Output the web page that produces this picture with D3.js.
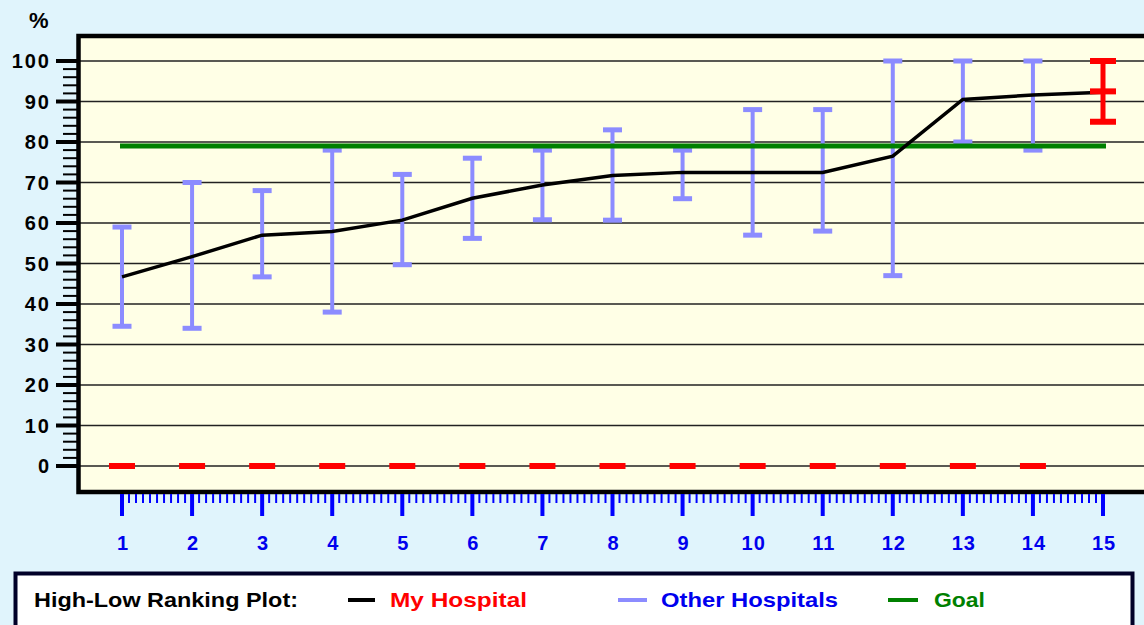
<!DOCTYPE html>
<html>
<head>
<meta charset="utf-8">
<script src="https://cdn.jsdelivr.net/npm/d3@7"></script>
<style>
  body { margin: 0; background: #e0f4fc; }
  svg { display: block; }
  text { font-family: "Liberation Sans", Arial, sans-serif; font-weight: bold; }
</style>
</head>
<body>
<svg id="chart" width="1144" height="625"></svg>
<script>
// ranking positions 1..15
let ranks = [1, 2, 3, 4, 5, 6, 7, 8, 9, 10, 11, 12, 13, 14, 15];
// black line, ranked values
let lineValues = [46.7, 51.7, 57, 57.9, 60.7, 66.1, 69.4, 71.7, 72.5, 72.5, 72.5, 76.5, 90.5, 91.6, 92.3];
// other hospitals high-low ranges (ranks 1..14)
let otherHigh = [59, 70, 68, 78, 72, 76, 78, 83, 78, 88, 88, 100, 100, 100];
let otherLow = [34.5, 34, 46.7, 38, 49.7, 56.2, 60.8, 60.7, 66, 57, 58, 47, 80, 78];
// my hospital range (rank 15)
let myRank = 15;
let myHigh = 100, myMid = 92.5, myLow = 85;
let goal = 79;
let yTicks = [0, 10, 20, 30, 40, 50, 60, 70, 80, 90, 100];

let svg = d3.select("#chart");
let x = d3.scaleLinear().domain([1, 15]).range([122, 1103]);
let y = d3.scaleLinear().domain([0, 100]).range([466, 61]);

// plot background
svg.append("rect").attr("x", 78).attr("y", 36).attr("width", 1100).attr("height", 456)
    .attr("fill", "#ffffe6");

// grid lines
svg.append("g").selectAll("line").data(yTicks).enter().append("line")
    .attr("x1", 80).attr("x2", 1144)
    .attr("y1", d => y(d)).attr("y2", d => y(d))
    .attr("stroke", "#222").attr("stroke-width", 1.5);

// frame
svg.append("path").attr("d", "M1150,36 H78.5 V492 H1150")
    .attr("fill", "none").attr("stroke", "#000").attr("stroke-width", 4.5);

// y axis ticks
let yMinor = [];
for (let i = 0; i < 10; i++) for (let j = 1; j < 5; j++) yMinor.push(i * 10 + j * 2);
svg.append("g").selectAll("line").data(yMinor).enter().append("line")
    .attr("x1", 63).attr("x2", 77).attr("y1", d => y(d)).attr("y2", d => y(d))
    .attr("stroke", "#000").attr("stroke-width", 2);
svg.append("g").selectAll("line").data(yTicks).enter().append("line")
    .attr("x1", 56).attr("x2", 78).attr("y1", d => y(d)).attr("y2", d => y(d))
    .attr("stroke", "#000").attr("stroke-width", 4);
svg.append("g").selectAll("text").data(yTicks).enter().append("text")
    .attr("x", 51).attr("y", d => y(d) + 7).attr("text-anchor", "end")
    .attr("font-size", 20).attr("letter-spacing", 2).attr("fill", "#000")
    .text(d => d);
svg.append("text").attr("x", 29).attr("y", 28).attr("font-size", 22).text("%");

// x axis ticks
let xMinor = [];
for (let i = 1; i < 15; i++) for (let j = 1; j < 10; j++) xMinor.push(i + j / 10);
svg.append("g").selectAll("line").data(xMinor).enter().append("line")
    .attr("x1", d => x(d)).attr("x2", d => x(d)).attr("y1", 494).attr("y2", 503)
    .attr("stroke", "#0000ff").attr("stroke-width", 2);
svg.append("g").selectAll("line").data(ranks).enter().append("line")
    .attr("x1", d => x(d)).attr("x2", d => x(d)).attr("y1", 494).attr("y2", 516)
    .attr("stroke", "#0000ff").attr("stroke-width", 4);
svg.append("g").selectAll("text").data(ranks).enter().append("text")
    .attr("x", d => x(d) + 1).attr("y", 550).attr("text-anchor", "middle")
    .attr("font-size", 20).attr("letter-spacing", 1).attr("fill", "#0000ee")
    .text(d => d);

// red dashes at zero
svg.append("g").selectAll("rect").data(ranks.slice(0, 14)).enter().append("rect")
    .attr("x", d => x(d) - 13).attr("y", y(0) - 3).attr("width", 26).attr("height", 6)
    .attr("fill", "#ff0000");

// other hospitals high-low bars
let blue = "#8c8cff";
let bars = svg.append("g").selectAll("g").data(otherHigh).enter().append("g");
bars.append("line").attr("x1", (d, i) => x(ranks[i])).attr("x2", (d, i) => x(ranks[i]))
    .attr("y1", d => y(d)).attr("y2", (d, i) => y(otherLow[i]))
    .attr("stroke", blue).attr("stroke-width", 4);
bars.append("line").attr("x1", (d, i) => x(ranks[i]) - 9.5).attr("x2", (d, i) => x(ranks[i]) + 9.5)
    .attr("y1", d => y(d)).attr("y2", d => y(d))
    .attr("stroke", blue).attr("stroke-width", 5);
bars.append("line").attr("x1", (d, i) => x(ranks[i]) - 9.5).attr("x2", (d, i) => x(ranks[i]) + 9.5)
    .attr("y1", (d, i) => y(otherLow[i])).attr("y2", (d, i) => y(otherLow[i]))
    .attr("stroke", blue).attr("stroke-width", 5);

// goal line
svg.append("line").attr("x1", x(1) - 2).attr("x2", x(15) + 3)
    .attr("y1", y(goal)).attr("y2", y(goal))
    .attr("stroke", "#008000").attr("stroke-width", 5);

// ranking line
let line = d3.line().x((d, i) => x(ranks[i])).y(d => y(d));
svg.append("path").datum(lineValues).attr("d", line)
    .attr("fill", "none").attr("stroke", "#000").attr("stroke-width", 3.5);

// my hospital bar
let red = "#ff0000";
svg.append("line").attr("x1", x(myRank)).attr("x2", x(myRank))
    .attr("y1", y(myHigh)).attr("y2", y(myLow)).attr("stroke", red).attr("stroke-width", 5);
svg.append("g").selectAll("line").data([myHigh, myMid, myLow]).enter().append("line")
    .attr("x1", x(myRank) - 13).attr("x2", x(myRank) + 13)
    .attr("y1", d => y(d)).attr("y2", d => y(d))
    .attr("stroke", red).attr("stroke-width", 6);

// legend
let legend = svg.append("g");
legend.append("rect").attr("x", 15.5).attr("y", 573.5).attr("width", 1117).attr("height", 70)
    .attr("fill", "#fff").attr("stroke", "#000028").attr("stroke-width", 4);
function legendText(tx, txt, col, len) {
    legend.append("text").attr("x", tx).attr("y", 607).attr("font-size", 21)
        .attr("fill", col).attr("textLength", len).attr("lengthAdjust", "spacingAndGlyphs")
        .text(txt);
}
legendText(34, "High-Low Ranking Plot:", "#000", 264);
legend.append("line").attr("x1", 348).attr("x2", 375).attr("y1", 600).attr("y2", 600)
    .attr("stroke", "#000").attr("stroke-width", 4);
legendText(390, "My Hospital", "#ff0000", 137);
legend.append("line").attr("x1", 618).attr("x2", 647).attr("y1", 600).attr("y2", 600)
    .attr("stroke", blue).attr("stroke-width", 4);
legendText(661, "Other Hospitals", "#0000ee", 177);
legend.append("line").attr("x1", 888).attr("x2", 918).attr("y1", 600).attr("y2", 600)
    .attr("stroke", "#008000").attr("stroke-width", 4);
legendText(934, "Goal", "#008000", 51);
</script>
</body>
</html>
